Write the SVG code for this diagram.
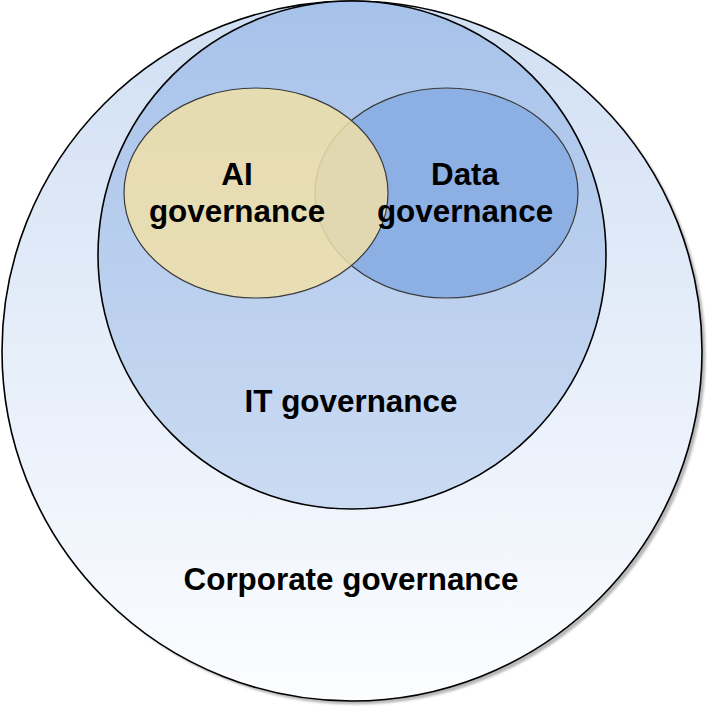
<svg xmlns="http://www.w3.org/2000/svg" width="707" height="708" viewBox="0 0 707 708">
  <style>
    .edge { stroke: #000000; stroke-width: 1.6; }
    .thin { stroke: #3a3a3a; stroke-width: 1.2; }
    .lbl { font-family: "Liberation Sans", Arial, sans-serif; font-weight: bold; font-size: 31.4px; fill: #000000; text-anchor: middle; }
  </style>
  <defs>
    <linearGradient id="gOuter" x1="0" y1="0" x2="0" y2="1">
      <stop offset="0" stop-color="#d0dff4"/>
      <stop offset="1" stop-color="#fcfdff"/>
    </linearGradient>
    <linearGradient id="gIT" x1="0" y1="0" x2="0" y2="1">
      <stop offset="0" stop-color="#a7c2ea"/>
      <stop offset="1" stop-color="#cbdbf2"/>
    </linearGradient>
    <filter id="blur" x="-5%" y="-5%" width="110%" height="110%">
      <feGaussianBlur stdDeviation="1"/>
    </filter>
  </defs>
  <rect width="707" height="708" fill="#ffffff"/>
  <g id="corporate">
    <circle cx="355.5" cy="354.5" r="350" fill="#b8b8b8" filter="url(#blur)"/>
    <circle class="edge" cx="352" cy="351" r="350" fill="url(#gOuter)"/>
    <text class="lbl" x="351" y="590">Corporate governance</text>
  </g>
  <g id="it">
    <circle class="edge" cx="352" cy="255" r="254" fill="url(#gIT)"/>
    <text class="lbl" x="351" y="412">IT governance</text>
  </g>
  <g id="data">
    <ellipse class="thin" cx="446.5" cy="193" rx="131.5" ry="105" fill="#8cb0e3"/>
  </g>
  <g id="ai">
    <ellipse cx="256" cy="193" rx="132" ry="105" fill="#f0dfa8" fill-opacity="0.85" stroke="#3a3a3a" stroke-width="1.2"/>
    <text class="lbl" x="237" y="185">AI</text>
    <text class="lbl" x="237" y="222">governance</text>
  </g>
  <g id="data-label">
    <text class="lbl" x="465" y="185">Data</text>
    <text class="lbl" x="465" y="222">governance</text>
  </g>
  <g id="connectors"/>
</svg>
